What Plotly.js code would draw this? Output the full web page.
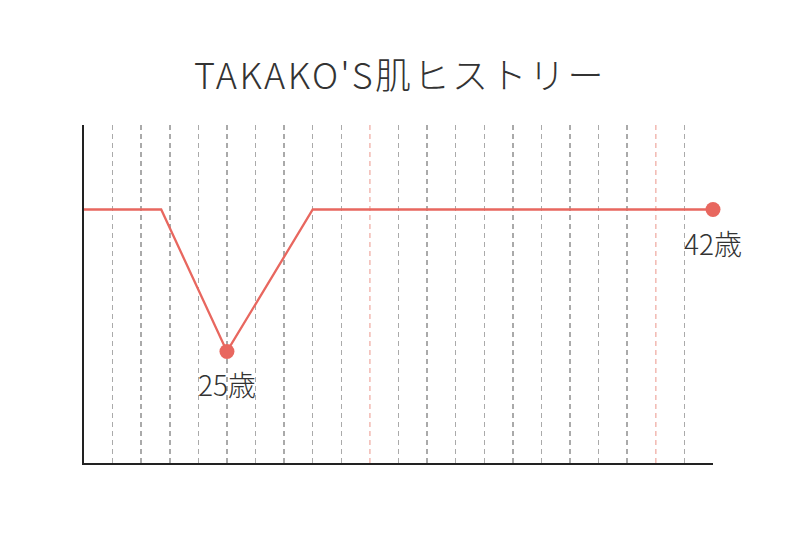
<!DOCTYPE html>
<html>
<head>
<meta charset="utf-8">
<script src="https://cdn.plot.ly/plotly-3.0.1.min.js"></script>
<style>
  html, body { margin: 0; padding: 0; background: #fff; }
  #chart { width: 800px; height: 533px; }
  #chart .gtitle { letter-spacing: 2.5px; }
</style>
</head>
<body>
<div id="chart"></div>
<script>
// skin history: age vs. skin condition (arbitrary scale)
const ages = [20, 22.7, 25, 28, 42];
const skinLevel = [7.5, 7.5, 3.3, 7.5, 7.5];

// labelled points
const labelAges = [25, 42];
const labelTexts = ["25歳", "42歳"];

// vertical guide years
const gridYears = [21, 22, 23, 24, 25, 26, 27, 28, 29, 31, 32, 33, 34, 35, 36, 37, 38, 39, 41, 42];
const highlightYears = [30, 40];

const lineColor = "#e8675f";
const textColor = "#333333";
const font = "'Noto Sans CJK JP', 'Noto Sans', sans-serif";

const labelValues = labelAges.map((a) => skinLevel[ages.indexOf(a)]);

const lineTrace = {
  x: ages,
  y: skinLevel,
  type: "scatter",
  mode: "lines",
  line: { color: lineColor, width: 2.3 },
  hoverinfo: "skip",
};

const dotTrace = {
  x: labelAges,
  y: labelValues,
  type: "scatter",
  mode: "markers",
  marker: { color: lineColor, size: 15 },
  cliponaxis: false,
  hoverinfo: "skip",
};

// pink dashed lines for round ages
const shapes = highlightYears.map((yr) => ({
  type: "line",
  xref: "x",
  yref: "paper",
  x0: yr,
  x1: yr,
  y0: 0,
  y1: 1,
  layer: "below",
  line: { color: "#f2b9b2", width: 1.5, dash: "5px,4px" },
}));

const annotations = labelAges.map((a, i) => ({
  x: a,
  y: labelValues[i],
  text: labelTexts[i],
  showarrow: false,
  yshift: -33,
  font: { family: font, size: 28, color: textColor, weight: 300 },
}));

const layout = {
  width: 800,
  height: 533,
  margin: { l: 84, r: 87, t: 125, b: 70 },
  paper_bgcolor: "#ffffff",
  plot_bgcolor: "#ffffff",
  showlegend: false,
  title: {
    text: "TAKAKO'S肌ヒストリー",
    x: 0.5,
    xanchor: "center",
    y: 0.857,
    yanchor: "middle",
    font: { family: font, size: 36, color: textColor, weight: 300 },
  },
  xaxis: {
    range: [20, 42],
    tickmode: "array",
    tickvals: gridYears,
    showticklabels: false,
    ticks: "",
    showgrid: true,
    gridcolor: "#aaaaaa",
    gridwidth: 1.5,
    griddash: "5px,4px",
    zeroline: false,
    showline: true,
    linecolor: "#222222",
    linewidth: 2,
    fixedrange: true,
  },
  yaxis: {
    range: [0, 10],
    showticklabels: false,
    ticks: "",
    showgrid: false,
    zeroline: false,
    showline: true,
    linecolor: "#222222",
    linewidth: 2,
    fixedrange: true,
  },
  shapes: shapes,
  annotations: annotations,
};

Plotly.newPlot("chart", [lineTrace, dotTrace], layout, { displayModeBar: false, staticPlot: true });
</script>
</body>
</html>
